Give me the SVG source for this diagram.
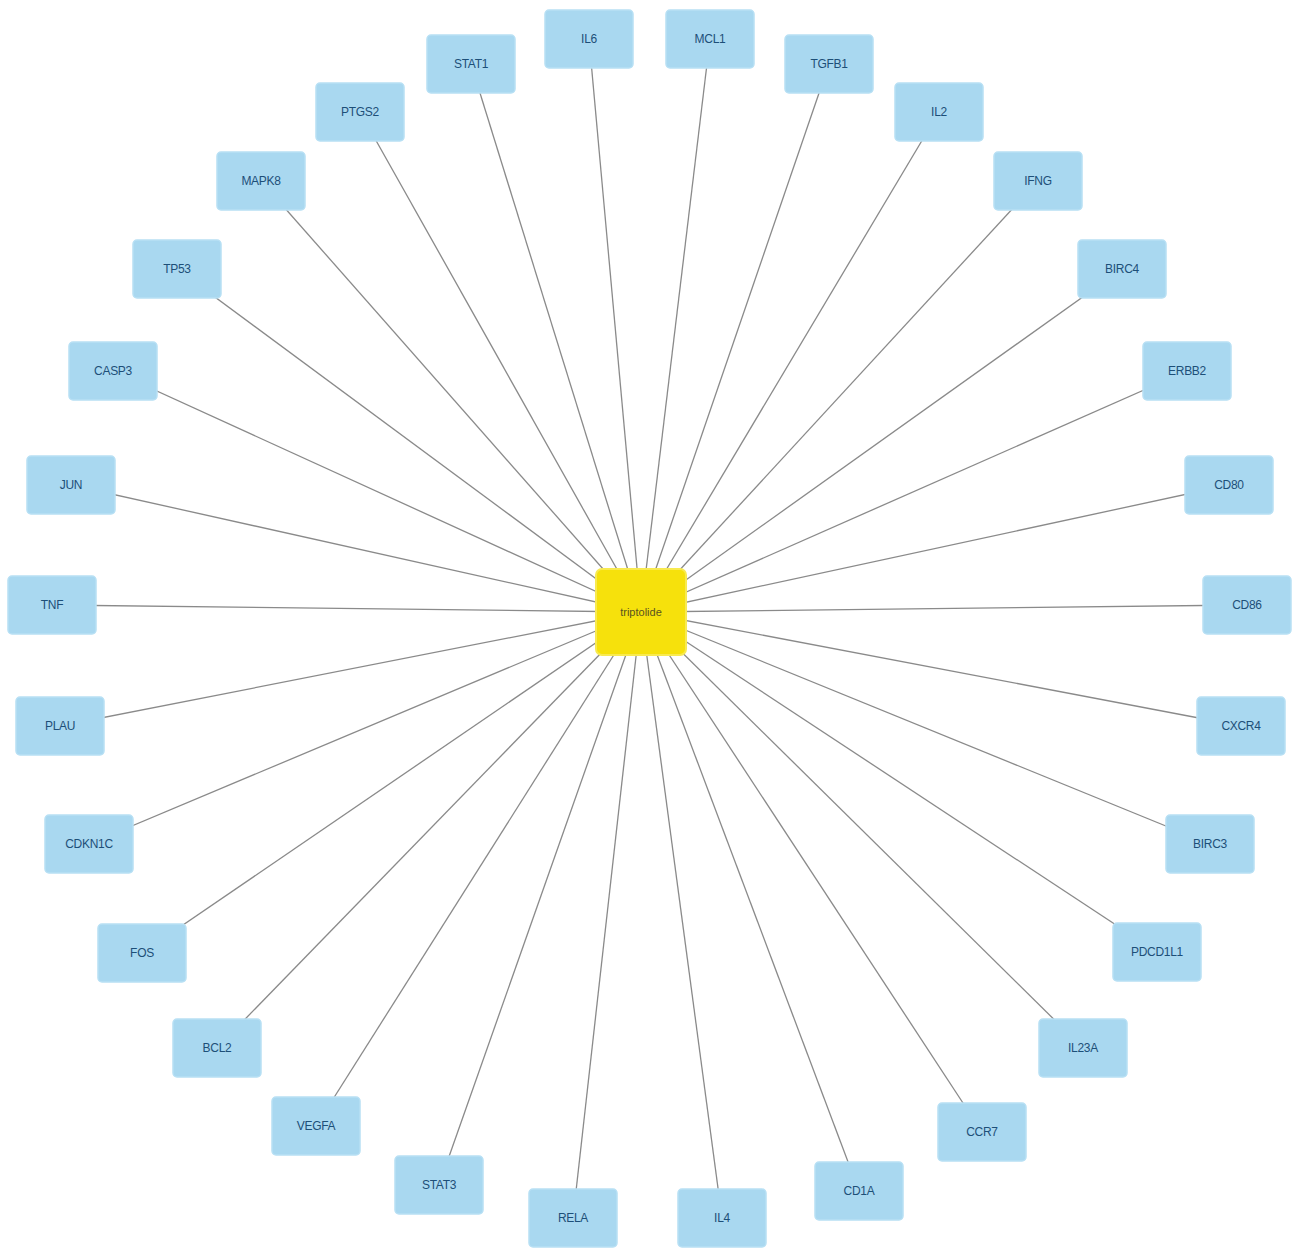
<svg xmlns="http://www.w3.org/2000/svg" width="1294" height="1248" viewBox="0 0 1294 1248">
<style>
.n rect{fill:#a9d8f0;stroke:#b8e0f4;stroke-width:1.5}
.n text{font-family:"Liberation Sans",Arial,sans-serif;font-size:12px;fill:#1d4f78;text-anchor:middle;dominant-baseline:central;letter-spacing:-0.3px}
#edges line{stroke:#8a8a8a;stroke-width:1.3}
.c rect{fill:#f6e10c;stroke:#f8ea50;stroke-width:2}
.c text{font-family:"Liberation Sans",Arial,sans-serif;font-size:11px;fill:#5a5320;text-anchor:middle;dominant-baseline:central}
</style>
<rect width="1294" height="1248" fill="#ffffff"/>
<g id="edges">
<line x1="641" y1="612" x2="471" y2="64"/>
<line x1="641" y1="612" x2="589" y2="39"/>
<line x1="641" y1="612" x2="710" y2="39"/>
<line x1="641" y1="612" x2="829" y2="64"/>
<line x1="641" y1="612" x2="939" y2="112"/>
<line x1="641" y1="612" x2="1038" y2="181"/>
<line x1="641" y1="612" x2="1122" y2="269"/>
<line x1="641" y1="612" x2="1187" y2="371"/>
<line x1="641" y1="612" x2="1229" y2="485"/>
<line x1="641" y1="612" x2="1247" y2="605"/>
<line x1="641" y1="612" x2="1241" y2="726"/>
<line x1="641" y1="612" x2="1210" y2="844"/>
<line x1="641" y1="612" x2="1157" y2="952"/>
<line x1="641" y1="612" x2="1083" y2="1048"/>
<line x1="641" y1="612" x2="982" y2="1132"/>
<line x1="641" y1="612" x2="859" y2="1191"/>
<line x1="641" y1="612" x2="722" y2="1218"/>
<line x1="641" y1="612" x2="573" y2="1218"/>
<line x1="641" y1="612" x2="439" y2="1185"/>
<line x1="641" y1="612" x2="316" y2="1126"/>
<line x1="641" y1="612" x2="217" y2="1048"/>
<line x1="641" y1="612" x2="142" y2="953"/>
<line x1="641" y1="612" x2="89" y2="844"/>
<line x1="641" y1="612" x2="60" y2="726"/>
<line x1="641" y1="612" x2="52" y2="605"/>
<line x1="641" y1="612" x2="71" y2="485"/>
<line x1="641" y1="612" x2="113" y2="371"/>
<line x1="641" y1="612" x2="177" y2="269"/>
<line x1="641" y1="612" x2="261" y2="181"/>
<line x1="641" y1="612" x2="360" y2="112"/>
</g>
<g id="n-STAT1" class="n"><rect x="427" y="35" width="88" height="58" rx="4"/><text x="471" y="64">STAT1</text></g>
<g id="n-IL6" class="n"><rect x="545" y="10" width="88" height="58" rx="4"/><text x="589" y="39">IL6</text></g>
<g id="n-MCL1" class="n"><rect x="666" y="10" width="88" height="58" rx="4"/><text x="710" y="39">MCL1</text></g>
<g id="n-TGFB1" class="n"><rect x="785" y="35" width="88" height="58" rx="4"/><text x="829" y="64">TGFB1</text></g>
<g id="n-IL2" class="n"><rect x="895" y="83" width="88" height="58" rx="4"/><text x="939" y="112">IL2</text></g>
<g id="n-IFNG" class="n"><rect x="994" y="152" width="88" height="58" rx="4"/><text x="1038" y="181">IFNG</text></g>
<g id="n-BIRC4" class="n"><rect x="1078" y="240" width="88" height="58" rx="4"/><text x="1122" y="269">BIRC4</text></g>
<g id="n-ERBB2" class="n"><rect x="1143" y="342" width="88" height="58" rx="4"/><text x="1187" y="371">ERBB2</text></g>
<g id="n-CD80" class="n"><rect x="1185" y="456" width="88" height="58" rx="4"/><text x="1229" y="485">CD80</text></g>
<g id="n-CD86" class="n"><rect x="1203" y="576" width="88" height="58" rx="4"/><text x="1247" y="605">CD86</text></g>
<g id="n-CXCR4" class="n"><rect x="1197" y="697" width="88" height="58" rx="4"/><text x="1241" y="726">CXCR4</text></g>
<g id="n-BIRC3" class="n"><rect x="1166" y="815" width="88" height="58" rx="4"/><text x="1210" y="844">BIRC3</text></g>
<g id="n-PDCD1L1" class="n"><rect x="1113" y="923" width="88" height="58" rx="4"/><text x="1157" y="952">PDCD1L1</text></g>
<g id="n-IL23A" class="n"><rect x="1039" y="1019" width="88" height="58" rx="4"/><text x="1083" y="1048">IL23A</text></g>
<g id="n-CCR7" class="n"><rect x="938" y="1103" width="88" height="58" rx="4"/><text x="982" y="1132">CCR7</text></g>
<g id="n-CD1A" class="n"><rect x="815" y="1162" width="88" height="58" rx="4"/><text x="859" y="1191">CD1A</text></g>
<g id="n-IL4" class="n"><rect x="678" y="1189" width="88" height="58" rx="4"/><text x="722" y="1218">IL4</text></g>
<g id="n-RELA" class="n"><rect x="529" y="1189" width="88" height="58" rx="4"/><text x="573" y="1218">RELA</text></g>
<g id="n-STAT3" class="n"><rect x="395" y="1156" width="88" height="58" rx="4"/><text x="439" y="1185">STAT3</text></g>
<g id="n-VEGFA" class="n"><rect x="272" y="1097" width="88" height="58" rx="4"/><text x="316" y="1126">VEGFA</text></g>
<g id="n-BCL2" class="n"><rect x="173" y="1019" width="88" height="58" rx="4"/><text x="217" y="1048">BCL2</text></g>
<g id="n-FOS" class="n"><rect x="98" y="924" width="88" height="58" rx="4"/><text x="142" y="953">FOS</text></g>
<g id="n-CDKN1C" class="n"><rect x="45" y="815" width="88" height="58" rx="4"/><text x="89" y="844">CDKN1C</text></g>
<g id="n-PLAU" class="n"><rect x="16" y="697" width="88" height="58" rx="4"/><text x="60" y="726">PLAU</text></g>
<g id="n-TNF" class="n"><rect x="8" y="576" width="88" height="58" rx="4"/><text x="52" y="605">TNF</text></g>
<g id="n-JUN" class="n"><rect x="27" y="456" width="88" height="58" rx="4"/><text x="71" y="485">JUN</text></g>
<g id="n-CASP3" class="n"><rect x="69" y="342" width="88" height="58" rx="4"/><text x="113" y="371">CASP3</text></g>
<g id="n-TP53" class="n"><rect x="133" y="240" width="88" height="58" rx="4"/><text x="177" y="269">TP53</text></g>
<g id="n-MAPK8" class="n"><rect x="217" y="152" width="88" height="58" rx="4"/><text x="261" y="181">MAPK8</text></g>
<g id="n-PTGS2" class="n"><rect x="316" y="83" width="88" height="58" rx="4"/><text x="360" y="112">PTGS2</text></g>
<g id="n-triptolide" class="c"><rect x="596" y="569" width="90" height="86" rx="6"/><text x="641" y="612">triptolide</text></g>
</svg>
